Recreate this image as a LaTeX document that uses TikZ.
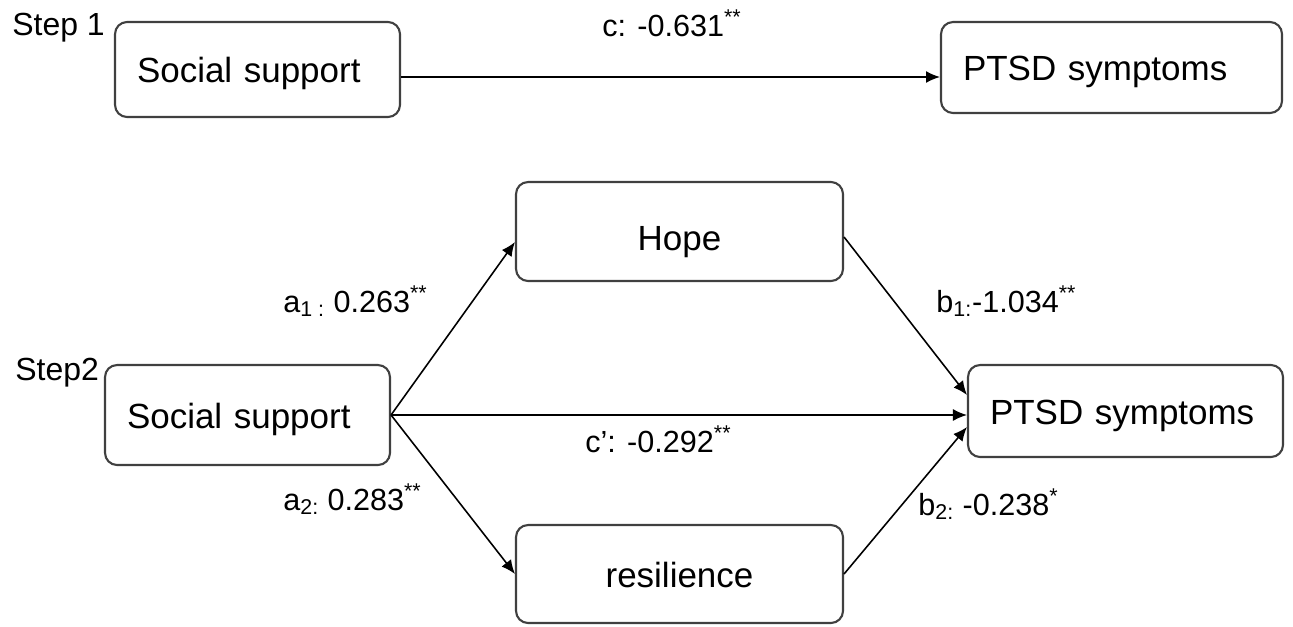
\documentclass[tikz,border=0pt]{standalone}
\usepackage{fontspec}
\setmainfont{Liberation Sans}
\usetikzlibrary{positioning, arrows.meta, calc}

\begin{document}
\begin{tikzpicture}[x=0.02cm, y=-0.02cm,
box/.style={rectangle, rounded corners=0.24cm, draw=black!75, line width=1.2pt, inner sep=0pt,
  text height=15pt, text depth=0pt, font=\fontsize{19.9}{24}\selectfont},
leftbox/.style={box, inner xsep=0.44cm, align=left},
effect/.style={draw, line width=0.9pt, -{Latex[length=0.28cm,width=0.24cm]}},
coef/.style={anchor=base west, inner sep=0pt, font=\fontsize{17.4}{20}\selectfont},
steplabel/.style={anchor=base west, inner sep=0pt, font=\fontsize{18.2}{22}\selectfont}]
\useasboundingbox (0,0) rectangle (1293,626);

\node[leftbox, text width=4.82cm, minimum height=1.9cm] (ss1) at (257.5,69.5) {Social support};
\node[leftbox, text width=5.94cm, minimum height=1.82cm] (ptsd1) at (1111.5,67.5) {PTSD symptoms};
\node[box, minimum width=6.54cm, minimum height=1.98cm, text height=22pt] (hope) at (679.5,231.5) {Hope};
\node[leftbox, text width=4.82cm, minimum height=2cm] (ss2) at (247.5,415) {Social support};
\node[leftbox, text width=5.42cm, minimum height=1.84cm] (ptsd2) at (1125.5,411) {PTSD symptoms};
\node[box, minimum width=6.54cm, minimum height=1.96cm] (res) at (679.5,574) {resilience};

\node[steplabel] (step1) at (12,35) {Step 1};
\node[steplabel] (step2) at (15,380) {Step2};
\node[coef] (c) at (602,36) {c: -0.631\textsuperscript{**}};
\node[coef] (a1) at (283,312) {a\textsubscript{1 :} 0.263\textsuperscript{**}};
\node[coef] (b1) at (936,312) {b\textsubscript{1:}-1.034\textsuperscript{**}};
\node[coef] (cp) at (585,452) {c’: -0.292\textsuperscript{**}};
\node[coef] (a2) at (283,510) {a\textsubscript{2:} 0.283\textsuperscript{**}};
\node[coef] (b2) at (918,515) {b\textsubscript{2:} -0.238\textsuperscript{*}};

\draw[effect] ([yshift=-0.15cm]ss1.east) -- ([yshift=-0.15cm]ss1.east -| ptsd1.west);
\draw[effect] (ss2.east) -- ([yshift=-0.21cm]hope.west);
\draw[effect] (ss2.east) -- (ss2.east -| ptsd2.west);
\draw[effect] (ss2.east) -- (res.west);
\draw[effect] ([yshift=-0.11cm]hope.east) -- ([yshift=0.32cm]ptsd2.west);
\draw[effect] (res.east) -- ([yshift=-0.32cm]ptsd2.west);
\end{tikzpicture}
\end{document}
